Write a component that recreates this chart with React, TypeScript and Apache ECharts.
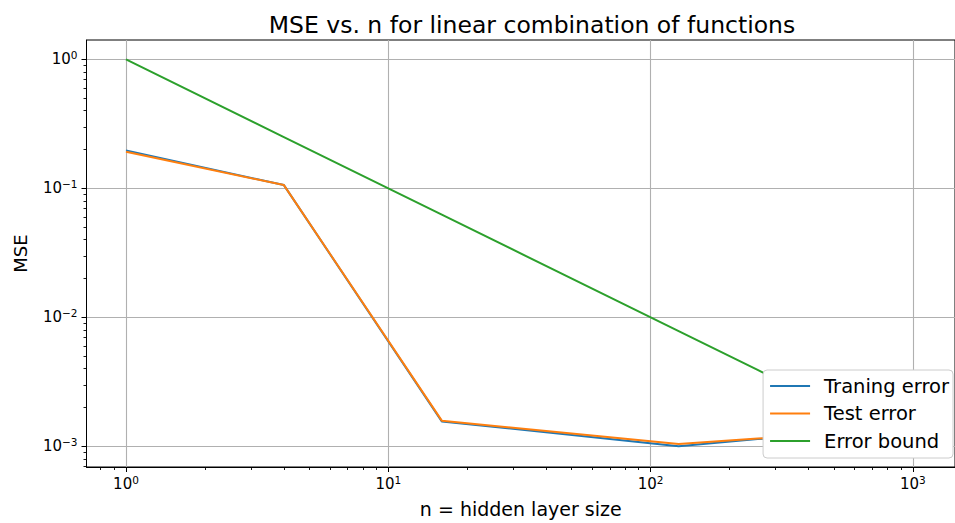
import React, { useEffect, useRef } from "react";
import * as echarts from "echarts";

// ---- data ----
const nValues = [1, 4, 16, 128, 256, 512, 1024];
const trainingError = [0.197, 0.106, 0.00156, 0.001, 0.00114, 0.00118, 0.00121];
const testError = [0.192, 0.106, 0.00158, 0.00104, 0.00115, 0.00119, 0.00123];
const errorBound = [1, 0.25, 0.0625, 0.0078125, 0.00390625, 0.001953125, 0.0009765625];

const seriesNames = ["Traning error", "Test error", "Error bound"];
const seriesColors = ["#1f77b4", "#ff7f0e", "#2ca02c"];

const xMajorTicks = [1, 10, 100, 1000];
const xMinorTicks = [0.8, 0.9, 2, 3, 4, 5, 6, 7, 8, 9, 20, 30, 40, 50, 60, 70, 80, 90, 200, 300, 400, 500, 600, 700, 800, 900];
const yMajorTicks = [0.001, 0.01, 0.1, 1];
const yMinorTicks = [
  0.0007, 0.0008, 0.0009,
  0.002, 0.003, 0.004, 0.005, 0.006, 0.007, 0.008, 0.009,
  0.02, 0.03, 0.04, 0.05, 0.06, 0.07, 0.08, 0.09,
  0.2, 0.3, 0.4, 0.5, 0.6, 0.7, 0.8, 0.9,
];

const X_MIN = Math.pow(10, -0.1505);
const X_MAX = Math.pow(10, 3.1608);
const Y_MIN = Math.pow(10, -3.1605);
const Y_MAX = Math.pow(10, 0.1502);

const FONT = "DejaVu Sans";

const powLabel = (v: number) => {
  const e = Math.round(Math.log10(v));
  const es = e < 0 ? "\u2212" + String(-e) : String(e);
  return `{b|10}{s|${es}}`;
};

const richStyle = {
  b: { fontSize: 15, fontFamily: FONT, color: "#000" },
  s: { fontSize: 10.5, fontFamily: FONT, color: "#000", padding: [0, 0, 8, 0] },
};

export default function App() {
  const ref = useRef<HTMLDivElement>(null);

  useEffect(() => {
    if (!ref.current) return;
    const chart = echarts.init(ref.current, null, { renderer: "svg" });

    const mk = (ys: number[]) => nValues.map((n, i) => [n, ys[i]]);
    const allY = [trainingError, testError, errorBound];

    const option: any = {
      animation: false,
      backgroundColor: "#fff",
      title: {
        text: "MSE vs. n for linear combination of functions",
        left: 527,
        textAlign: "center",
        top: 8,
        textStyle: { fontFamily: FONT, fontSize: 23.5, fontWeight: "normal", color: "#000" },
      },
      grid: {
        left: 86.5,
        top: 40,
        width: 879,
        height: 428,
        show: true,
        borderColor: "#000",
        borderWidth: 1,
        backgroundColor: "transparent",
      },
      legend: {
        orient: "vertical",
        right: 2,
        top: 370,
        z: 20,
        itemWidth: 40,
        itemHeight: 2,
        itemGap: 7.5,
        padding: [6, 4, 7, 7],
        backgroundColor: "#fff",
        borderColor: "#cccccc",
        borderWidth: 1,
        borderRadius: 4,
        data: seriesNames.map((name) => ({ name, icon: "rect" })),
        textStyle: {
          fontFamily: FONT,
          fontSize: 19.5,
          color: "#000",
          lineHeight: 20,
          padding: [0, 0, 0, 9],
        },
      },
      xAxis: [
        {
          type: "log",
          logBase: 10,
          min: X_MIN,
          max: X_MAX,
          position: "bottom",
          name: "n = hidden layer size",
          nameLocation: "middle",
          nameGap: 32,
          nameTextStyle: { fontFamily: FONT, fontSize: 19, color: "#000" },
          axisLine: { show: true, onZero: false, lineStyle: { color: "#000", width: 1 } },
          axisTick: { show: true, inside: false, length: 5, customValues: xMajorTicks, lineStyle: { color: "#000", width: 1 } },
          axisLabel: {
            show: true,
            margin: 7,
            customValues: xMajorTicks,
            formatter: powLabel,
            rich: richStyle,
          },
          splitLine: { show: true, lineStyle: { color: "#b0b0b0", width: 1.1 } },
          minorTick: { show: false },
        },
        {
          type: "log",
          logBase: 10,
          min: X_MIN,
          max: X_MAX,
          position: "bottom",
          gridIndex: 0,
          axisLine: { show: false },
          axisTick: { show: true, inside: false, length: 3, customValues: xMinorTicks, lineStyle: { color: "#000", width: 0.9 } },
          axisLabel: { show: false },
          splitLine: { show: false },
        },
      ],
      yAxis: [
        {
          type: "log",
          logBase: 10,
          min: Y_MIN,
          max: Y_MAX,
          position: "left",
          name: "MSE",
          nameLocation: "middle",
          nameGap: 57,
          nameTextStyle: { fontFamily: FONT, fontSize: 18, color: "#000" },
          axisLine: { show: true, onZero: false, lineStyle: { color: "#000", width: 1 } },
          axisTick: { show: true, inside: false, length: 5, customValues: yMajorTicks, lineStyle: { color: "#000", width: 1 } },
          axisLabel: {
            show: true,
            margin: 9,
            customValues: yMajorTicks,
            formatter: powLabel,
            rich: richStyle,
          },
          splitLine: { show: true, lineStyle: { color: "#b0b0b0", width: 1.1 } },
        },
        {
          type: "log",
          logBase: 10,
          min: Y_MIN,
          max: Y_MAX,
          position: "left",
          gridIndex: 0,
          axisLine: { show: false },
          axisTick: { show: true, inside: false, length: 3, customValues: yMinorTicks, lineStyle: { color: "#000", width: 0.9 } },
          axisLabel: { show: false },
          splitLine: { show: false },
        },
      ],
      series: seriesNames.map((name, i) => ({
        name,
        type: "line",
        xAxisIndex: 0,
        yAxisIndex: 0,
        data: mk(allY[i]),
        symbol: "none",
        showSymbol: false,
        color: seriesColors[i],
        itemStyle: { color: seriesColors[i] },
        lineStyle: { color: seriesColors[i], width: 2 },
      })),
    };

    chart.setOption(option);
    return () => {
      chart.dispose();
    };
  }, []);

  return (
    <div
      ref={ref}
      style={{ position: "fixed", left: 0, top: 0, width: 955, height: 523, background: "#fff" }}
    />
  );
}
